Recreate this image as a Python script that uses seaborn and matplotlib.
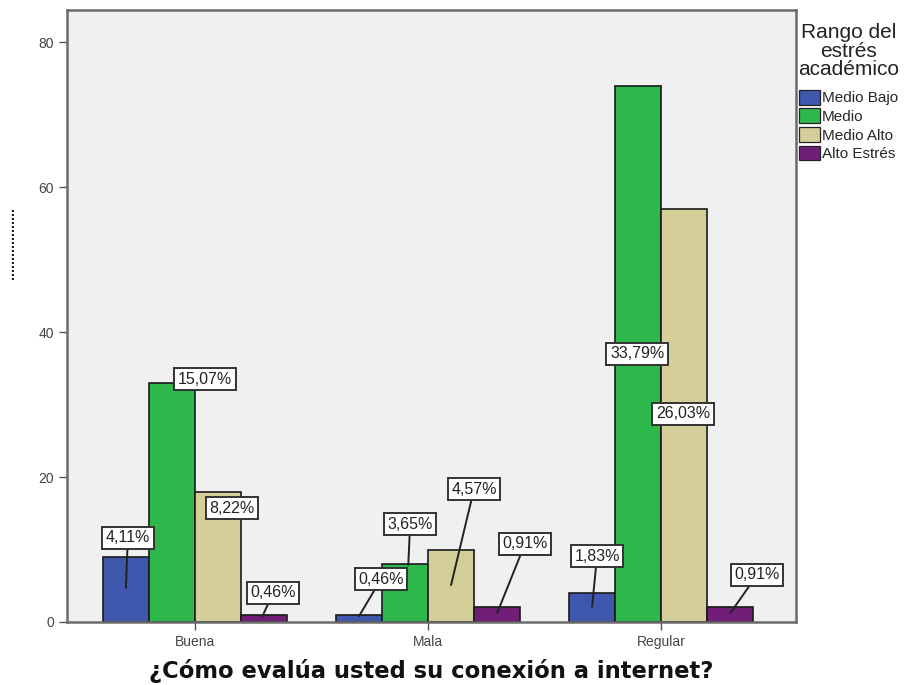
import matplotlib
matplotlib.use("Agg")
import matplotlib.pyplot as plt
import seaborn as sns
import pandas as pd
from matplotlib.patches import Patch

# ---- data ----
categories = ["Buena", "Mala", "Regular"]
levels = ["Medio Bajo", "Medio", "Medio Alto", "Alto Estrés"]
medio_bajo = [9, 1, 4]
medio = [33, 8, 74]
medio_alto = [18, 10, 57]
alto_estres = [1, 2, 2]
pct_labels = [
    ["4,11%", "15,07%", "8,22%", "0,46%"],
    ["0,46%", "3,65%", "4,57%", "0,91%"],
    ["1,83%", "33,79%", "26,03%", "0,91%"],
]

# ---- layout of labels (text position in data coords, anchor height or None, anchor x shift) ----
label_pos = [
    [(-0.288, 11.6, 4.7, 0.0), (0.043, 33.5, None, 0), (0.159, 15.7, None, 0), (0.335, 4.0, 0.7, -0.008)],
    [(0.798, 5.9, 0.8, 0.0), (0.923, 13.5, 7.9, 0.014), (1.197, 18.3, 5.1, 0.0), (1.416, 10.8, 1.2, 0.0)],
    [(1.725, 9.1, 2.1, 0.0), (1.897, 37.0, None, 0), (2.094, 28.7, None, 0), (2.412, 6.5, 1.2, 0.0)],
]

colors = ["#3F57AC", "#2EB84B", "#D4CF98", "#711E79"]

series = [medio_bajo, medio, medio_alto, alto_estres]
rows = []
for lvl, vals in zip(levels, series):
    for c, v in zip(categories, vals):
        rows.append({"cat": c, "lvl": lvl, "val": v})
df = pd.DataFrame(rows)

sns.set_theme(style="white")
plt.rcParams["font.family"] = ["Liberation Sans", "DejaVu Sans"]

fig = plt.figure(figsize=(9.14, 6.85), dpi=100)
ax = fig.add_axes([0.0733, 0.092, 0.7977, 0.893])
ax.set_facecolor("#F0F0F0")

sns.barplot(data=df, x="cat", y="val", hue="lvl", order=categories, hue_order=levels,
            palette=colors, width=0.79, edgecolor="#1a1a1a", linewidth=1.2,
            saturation=1, ax=ax, legend=False, errorbar=None)

ax.set_xlim(-0.549, 2.579)
ax.set_ylim(0, 84.4)
ax.set_yticks([0, 20, 40, 60, 80])
ax.tick_params(axis="both", which="both", direction="out", length=6, width=1,
               colors="#555555", labelcolor="#444444", labelsize=10, bottom=True, left=True)
for s in ax.spines.values():
    s.set_color("#6b6b6b")
    s.set_linewidth(1.8)

ax.set_xlabel("¿Cómo evalúa usted su conexión a internet?", fontsize=16.3,
              fontweight="bold", family="DejaVu Sans", color="#111111", labelpad=7)
ax.set_ylabel("..................", fontsize=10, color="#222222", fontweight="bold")
ax.yaxis.set_label_coords(-0.068, 0.62)

# seaborn orders patches by hue level then category
for j in range(len(levels)):
    for i in range(len(categories)):
        p = ax.patches[j * len(categories) + i]
        bx = p.get_x() + p.get_width() / 2
        tx, ty, ay, dx = label_pos[i][j]
        bbox = dict(boxstyle="square,pad=0.22", fc="white", ec="#333333", lw=1.4)
        if ay is None:
            ax.text(tx, ty, pct_labels[i][j], ha="center", va="center", fontsize=11.5,
                    color="#222222", bbox=bbox, zorder=5)
        else:
            ax.annotate(pct_labels[i][j], xy=(bx + dx, ay), xytext=(tx, ty),
                        ha="center", va="center", fontsize=11.5, color="#222222",
                        bbox=bbox, zorder=5,
                        arrowprops=dict(arrowstyle="-", color="#222222", lw=1.4,
                                        shrinkA=0, shrinkB=0))

handles = [Patch(facecolor=c, edgecolor="#222222", lw=0.9) for c in colors]
leg = fig.legend(handles, levels, title="Rango del\nestrés\nacadémico",
                 loc="upper left", bbox_to_anchor=(0.873, 0.966), frameon=False,
                 fontsize=11, title_fontsize=15, handlelength=1.4, handleheight=1.1,
                 handletextpad=0.1, labelspacing=0.2, borderaxespad=0, borderpad=0)
leg.get_title().set_multialignment("center")
leg.get_title().set_color("#222222")
leg.get_title().set_linespacing(0.95)
leg._legend_box.sep = 8

fig.savefig("out.png", dpi=100)
